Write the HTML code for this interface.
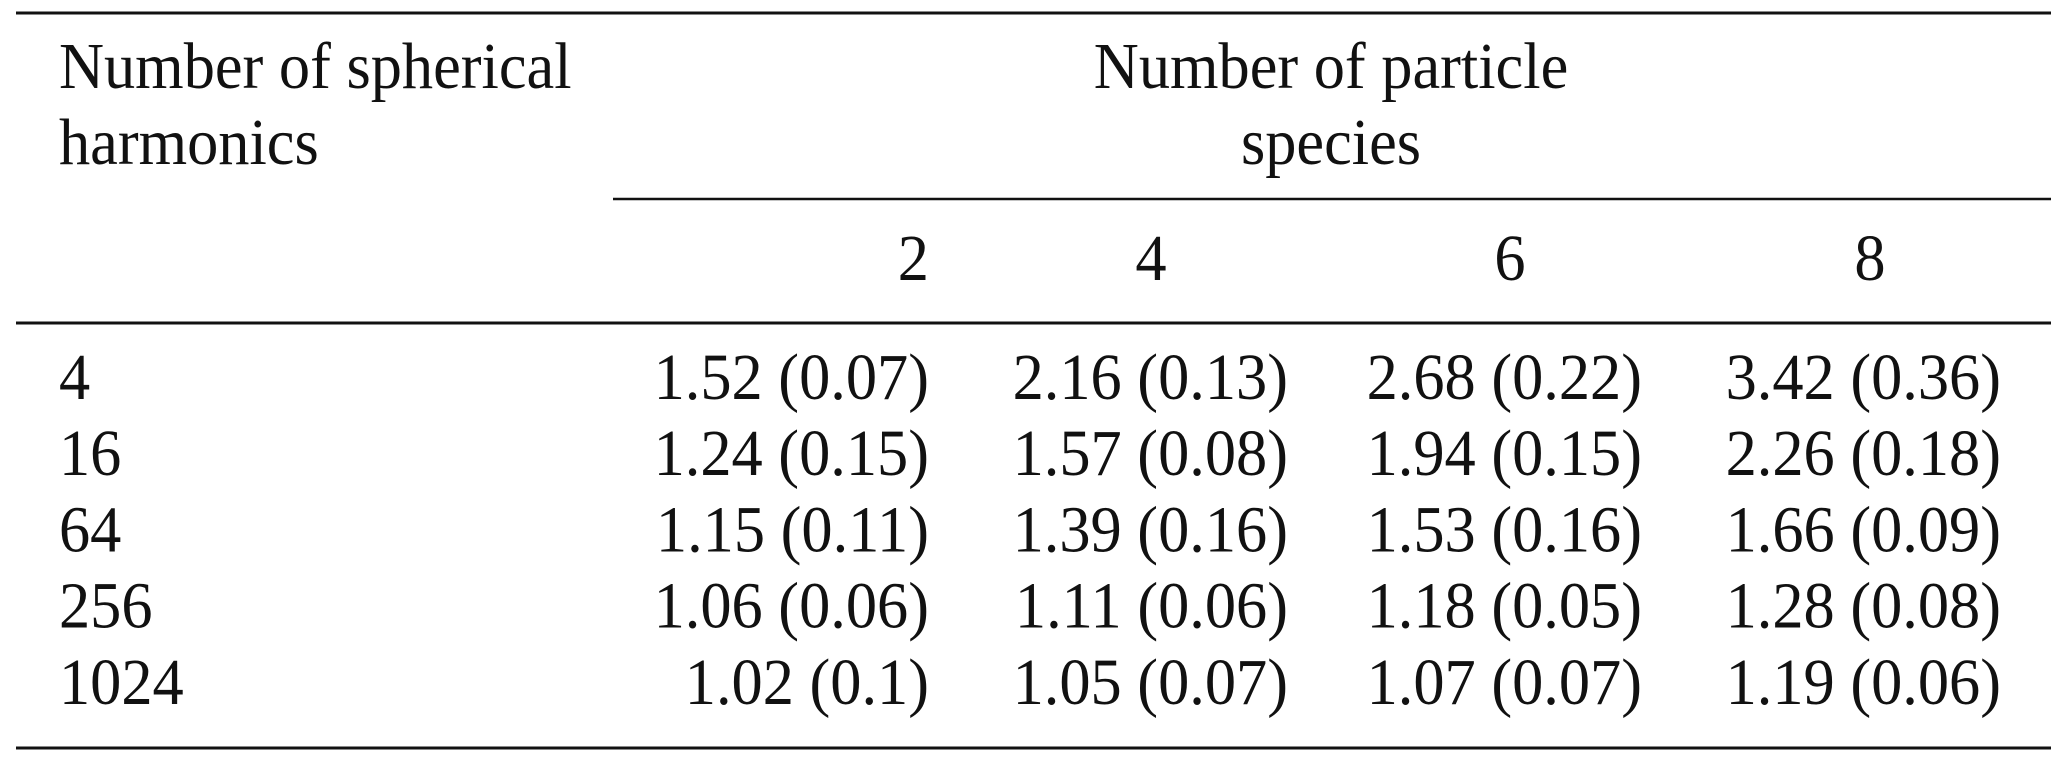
<!DOCTYPE html>
<html><head><meta charset="utf-8">
<style>
html,body{margin:0;padding:0;background:#fff;}
svg{display:block;}
text{font-family:"Liberation Serif","Times New Roman",serif;font-size:66px;fill:#111;}
</style></head>
<body>
<svg id="tbl" width="2067" height="761" viewBox="0 0 2067 761" xmlns="http://www.w3.org/2000/svg">
<line x1="16" y1="13" x2="2051" y2="13" stroke="#111" stroke-width="3"/>
<line x1="613" y1="199" x2="2051" y2="199" stroke="#111" stroke-width="2.5"/>
<line x1="16" y1="323" x2="2051" y2="323" stroke="#111" stroke-width="3"/>
<line x1="16" y1="748" x2="2051" y2="748" stroke="#111" stroke-width="3"/>
<text x="62.4" y="88" transform="scale(0.945,1)">Number of spherical</text>
<text x="62.4" y="164" transform="scale(0.945,1)">harmonics</text>
<text x="1408.5" y="88" text-anchor="middle" transform="scale(0.945,1)">Number of particle</text>
<text x="1408.5" y="164" text-anchor="middle" transform="scale(0.945,1)">species</text>
<g id="cells"></g>
</svg>
<script>
const speciesLabels = ["2","4","6","8"];
const harmonicsLabels = ["4","16","64","256","1024"];
const meanValues = [
  ["1.52","2.16","2.68","3.42"],
  ["1.24","1.57","1.94","2.26"],
  ["1.15","1.39","1.53","1.66"],
  ["1.06","1.11","1.18","1.28"],
  ["1.02","1.05","1.07","1.19"]
];
const sdValues = [
  ["0.07","0.13","0.22","0.36"],
  ["0.15","0.08","0.15","0.18"],
  ["0.11","0.16","0.16","0.09"],
  ["0.06","0.06","0.05","0.08"],
  ["0.1","0.07","0.07","0.06"]
];
const NS="http://www.w3.org/2000/svg";
const g=document.getElementById('cells');
const colRight=[929,1288,1642,2001];
const headX=[929,1151,1510,1870];
const rowY=i=>399+i*76.2;
function mk(txt,x,y,anchor,sx){
  const t=document.createElementNS(NS,'text');
  t.textContent=txt;
  t.setAttribute('x',x/sx);t.setAttribute('y',y);
  t.setAttribute('text-anchor',anchor);
  t.setAttribute('transform','scale('+sx+',1)');
  g.appendChild(t);return t;
}
speciesLabels.forEach((s,j)=>{
  const t=mk(s,headX[j],280,j===0?'end':'middle',0.945);
  
  
});
harmonicsLabels.forEach((h,i)=>{
  const t=mk(h,59,rowY(i),'start',0.945);
  
  
  meanValues[i].forEach((m,j)=>{
    const c=mk(m+' ('+sdValues[i][j]+')',colRight[j],rowY(i),'end',0.945);
    
    
  });
});
</script>
</body></html>
